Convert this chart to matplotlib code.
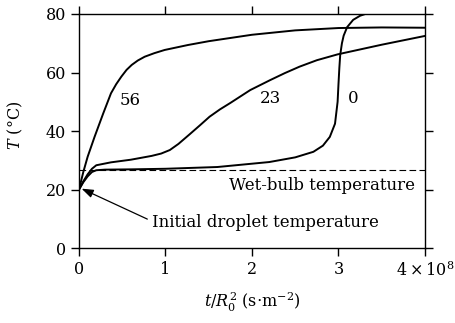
import matplotlib
matplotlib.use('Agg')
import matplotlib.pyplot as plt

plt.rcParams['font.family'] = ['DejaVu Serif']
plt.rcParams['mathtext.fontset'] = 'dejavuserif'

# Curve for 56 (label value)
x_56 = [0, 0.05, 0.10, 0.18, 0.28, 0.37, 0.43, 0.49, 0.55, 0.61, 0.68, 0.76,
        0.87, 0.99, 1.26, 1.5, 1.75, 2.0, 2.5, 3.0, 3.5, 4.0]
y_56 = [20, 26, 31.2, 38, 46, 52.9, 56, 58.6, 60.9, 62.6, 64.1, 65.4,
        66.6, 67.7, 69.4, 70.7, 71.8, 72.9, 74.4, 75.2, 75.4, 75.3]

# Curve for 23
x_23 = [0, 0.05, 0.1, 0.15, 0.2, 0.37, 0.6, 0.84, 0.95, 1.05, 1.15, 1.28,
        1.4, 1.51, 1.63, 1.75, 1.98, 2.21, 2.38, 2.55, 2.75, 2.99, 3.5, 4.0]
y_23 = [20, 22.8, 25.2, 27.1, 28.3, 29.3, 30.2, 31.5, 32.3, 33.5, 35.6, 38.9,
        42.0, 44.9, 47.4, 49.6, 54, 57.4, 59.8, 62, 64.2, 66.2, 69.5, 72.5]

# Curve for 0
x_0 = [0, 0.05, 0.1, 0.15, 0.2, 0.3, 0.6, 1.0, 1.6, 2.2, 2.5, 2.71, 2.82,
       2.9, 2.96, 2.99, 3.0, 3.01, 3.02, 3.04, 3.06, 3.1, 3.17, 3.25, 3.34]
y_0 = [20, 22.5, 24.5, 26, 26.6, 26.8, 26.9, 27.1, 27.7, 29.4, 31, 32.9, 35,
       38, 42.5, 50, 56, 61.5, 66, 70, 72.6, 75.5, 78, 79.4, 80.3]

wet_bulb = 26.7
x_ticks = [0, 1, 2, 3, 4]
x_tick_labels = ['0', '1', '2', '3', r'$4\times10^8$']
y_ticks = [0, 20, 40, 60, 80]

fs = 11.5
fs_note = 12
fig = plt.figure(figsize=(4.55, 3.23), dpi=100)
ax = fig.add_axes([0.1736, 0.232, 0.7604, 0.7247])

lw = 1.4
ax.plot(x_56, y_56, color='black', lw=lw)
ax.plot(x_23, y_23, color='black', lw=lw)
ax.plot(x_0, y_0, color='black', lw=lw)
ax.plot([0, 4], [wet_bulb, wet_bulb], color='black', lw=0.8, ls=(0, (6, 3)))

# curve labels
ax.text(0.59, 50.6, '56', fontsize=fs_note, ha='center', va='center')
ax.text(2.21, 51.2, '23', fontsize=fs_note, ha='center', va='center')
ax.text(3.17, 51.2, '0', fontsize=fs_note, ha='center', va='center')

ax.text(3.88, 21.5, 'Wet-bulb temperature', fontsize=fs_note, ha='right', va='center')
ax.text(0.84, 8.6, 'Initial droplet temperature', fontsize=fs_note, ha='left', va='center')
ax.annotate('', xy=(0.03, 20.3), xytext=(0.79, 9.9),
            arrowprops=dict(arrowstyle='-|>,head_length=0.7,head_width=0.25',
                            color='black', lw=0.9, shrinkA=0, shrinkB=0))

ax.set_xlim(0, 4)
ax.set_ylim(0, 80)
ax.set_xticks(x_ticks)
ax.set_xticklabels(x_tick_labels)
ax.set_yticks(y_ticks)
ax.tick_params(direction='out', length=6, width=1.0, labelsize=fs,
               top=True, right=True, labeltop=False, labelright=False)
for s in ax.spines.values():
    s.set_linewidth(1.0)

ax.set_xlabel(r'$t/R_0^2$ (s$\cdot$m$^{-2}$)', fontsize=fs, labelpad=8)
ax.set_ylabel(r'$T$ (°C)', fontsize=fs)
ax.yaxis.set_label_coords(-0.156, 0.525)

fig.savefig('out.png', dpi=100)
